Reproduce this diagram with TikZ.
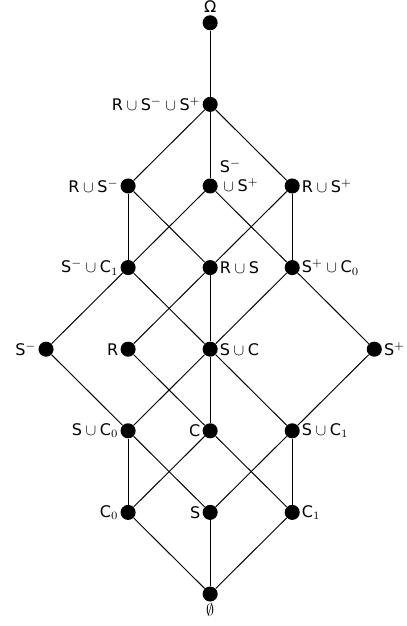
\documentclass[tikz,border=0pt]{standalone}
\usepackage{fontspec}
\setmainfont{DejaVu Sans}
\newcommand{\lunion}{\ensuremath{{}\cup{}}}
\newcommand{\spl}{\ensuremath{^{+}}}
\newcommand{\smi}{\ensuremath{^{-}}}
\tikzset{
  vert/.style = {circle, fill, inner sep=0pt, minimum size=9.4pt},
  every label/.style = {inner sep=1pt}
}
\begin{document}
\begin{tikzpicture}[x=1.8cm, y=1.79cm]
\useasboundingbox (-2.561,-0.392) rectangle (2.390,7.279);
\begin{scope}
\node[vert, label=above:Ω] (omega) at (0, 7) {};
\node[vert, label=left:{R\lunion S\smi\lunion S\spl}] (rsmsp) at (0, 6) {};
\node[vert, label=left:{R\lunion S\smi}] (rsm) at (-1, 5) {};
\node[vert, label={[align=left, yshift=6.5pt]right:{S\smi\\\lunion S\spl}}] (smsp) at (0, 5) {};
\node[vert, label=right:{R\lunion S\spl}] (rsp) at (1, 5) {};
\node[vert, label=left:{S\smi\lunion C$_1$}] (smc1) at (-1, 4) {};
\node[vert, label=right:{R\lunion S}] (rs) at (0, 4) {};
\node[vert, label=right:{S\spl\lunion C$_0$}] (spc0) at (1, 4) {};
\node[vert, label=left:S\smi] (sm) at (-2, 3) {};
\node[vert, label=left:R] (r) at (-1, 3) {};
\node[vert, label=right:{S\lunion C}] (sc) at (0, 3) {};
\node[vert, label=right:S\spl] (sp) at (2, 3) {};
\node[vert, label=left:{S\lunion C$_0$}] (sc0) at (-1, 2) {};
\node[vert, label=left:C] (c) at (0, 2) {};
\node[vert, label=right:{S\lunion C$_1$}] (sc1) at (1, 2) {};
\node[vert, label=left:C$_0$] (c0) at (-1, 1) {};
\node[vert, label=left:S] (s) at (0, 1) {};
\node[vert, label=right:C$_1$] (c1) at (1, 1) {};
\node[vert, label=below:$\emptyset$] (empty) at (0, 0) {};
\end{scope}
\begin{scope}[every edge/.style = {draw, line width=0.6pt}]
\path (omega) edge (rsmsp);
\path (rsmsp) edge (rsm);
\path (rsmsp) edge (smsp);
\path (rsmsp) edge (rsp);
\path (rsm) edge (smc1);
\path (rsm) edge (rs);
\path (smsp) edge (smc1);
\path (smsp) edge (spc0);
\path (rsp) edge (rs);
\path (rsp) edge (spc0);
\path (smc1) edge (sm);
\path (smc1) edge (sc);
\path (rs) edge (r);
\path (rs) edge (sc);
\path (spc0) edge (sc);
\path (spc0) edge (sp);
\path (sm) edge (sc0);
\path (r) edge (c);
\path (sc) edge (sc0);
\path (sc) edge (c);
\path (sc) edge (sc1);
\path (sp) edge (sc1);
\path (sc0) edge (c0);
\path (sc0) edge (s);
\path (c) edge (c0);
\path (c) edge (c1);
\path (sc1) edge (s);
\path (sc1) edge (c1);
\path (c0) edge (empty);
\path (s) edge (empty);
\path (c1) edge (empty);
\end{scope}
\end{tikzpicture}
\end{document}
